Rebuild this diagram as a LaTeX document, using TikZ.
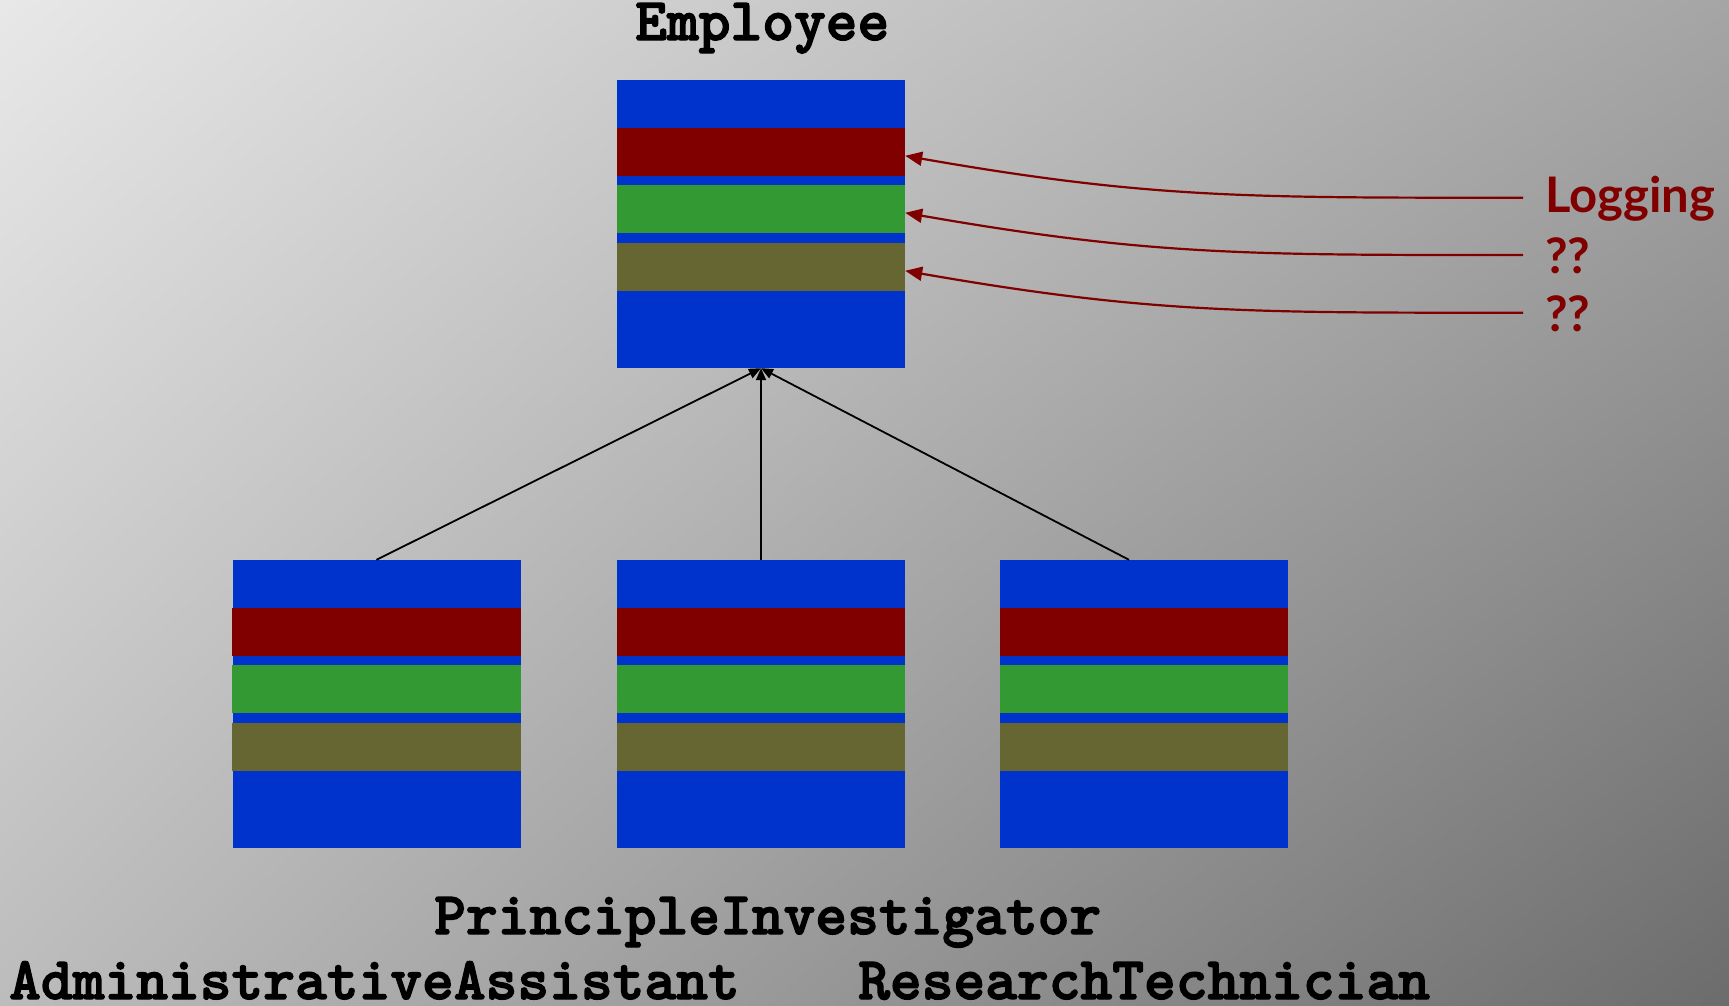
\documentclass[tikz,border=0pt]{standalone}
\usepackage{fontspec}
\newfontfamily\notefont{Lato}
\newfontfamily\classfont{lmmonolt10-bold.otf}[FakeBold=2.2]
\usetikzlibrary{arrows.meta,shadings}
\definecolor{classblue}{RGB}{0,51,204}
\definecolor{bandred}{RGB}{128,0,0}
\definecolor{bandgreen}{RGB}{51,153,51}
\definecolor{bandolive}{RGB}{102,102,51}
\definecolor{notered}{RGB}{128,0,0}
\definecolor{bgtl}{RGB}{232,232,232}
\definecolor{bgtr}{RGB}{165,165,165}
\definecolor{bgbl}{RGB}{188,188,188}
\definecolor{bgbr}{RGB}{108,108,108}
\tikzset{
  classbox/.style={rectangle, fill=classblue, minimum width=288pt, minimum height=288pt, inner sep=0pt},
  classname/.style={font=\fontsize{60.5}{60.5}\selectfont\classfont, inner sep=0pt, anchor=base west},
  note/.style={font=\fontsize{49}{49}\selectfont\notefont\bfseries, text=notered, inner sep=0pt, anchor=west},
  inherit/.style={line width=1.8pt, -{Triangle[length=12pt,width=10pt]}},
  concern/.style={draw=notered, line width=2.2pt, -{Triangle[length=17pt,width=14pt]}}
}
% the three coloured concern bands inside a class box
\newcommand{\concernbands}[1]{%
  \fill[bandred]   ([yshift=-48pt]#1.north west) rectangle ([yshift=-96pt]#1.north east);
  \fill[bandgreen] ([yshift=-105pt]#1.north west) rectangle ([yshift=-153pt]#1.north east);
  \fill[bandolive] ([yshift=-163pt]#1.north west) rectangle ([yshift=-211pt]#1.north east);
}
\begin{document}
\begin{tikzpicture}[x=1pt,y=-1pt]
  % background
  \shade[upper left=bgtl, upper right=bgtr, lower left=bgbl, lower right=bgbr]
    (0,0) rectangle (1729,1005);
  \useasboundingbox (0,0) rectangle (1729,1005);

  % class boxes
  \node[classbox] (emp) at (761,224) {};
  \node[classbox] (adm) at (376.5,704) {};
  \node[classbox] (pi)  at (761,704) {};
  \node[classbox] (tech) at (1144,704) {};
  \concernbands{emp}
  \concernbands{adm}
  \concernbands{pi}
  \concernbands{tech}

  % class names
  \node[classname] (empname) at (635,40) {Employee};
  \node[classname] (piname) at (434,934) {PrincipleInvestigator};
  \node[classname] (admname) at (9,999) {AdministrativeAssistant};
  \node[classname] (techname) at (858,999) {ResearchTechnician};

  % inheritance
  \draw[inherit] (adm.north) -- (emp.south);
  \draw[inherit] (pi.north) -- (emp.south);
  \draw[inherit] ([xshift=-15pt]tech.north) -- (emp.south);

  % concern labels and their arrows
  \node[note] (log) at (1545,199) {Logging};
  \node[note] (q1)  at (1545,256) {??};
  \node[note] (q2)  at (1545,314) {??};
  \coordinate (t1) at ([yshift=-76pt]emp.north east);
  \coordinate (t2) at ([yshift=-133pt]emp.north east);
  \coordinate (t3) at ([yshift=-191pt]emp.north east);
  \draw[concern] ([xshift=-22pt,yshift=1.3pt]log.west) .. controls +(-273,0) and +(246,43) .. (t1);
  \draw[concern] ([xshift=-22pt,yshift=1pt]q1.west)  .. controls +(-273,0) and +(246,43) .. (t2);
  \draw[concern] ([xshift=-22pt,yshift=1.3pt]q2.west)  .. controls +(-273,0) and +(246,43) .. (t3);
\end{tikzpicture}
\end{document}
